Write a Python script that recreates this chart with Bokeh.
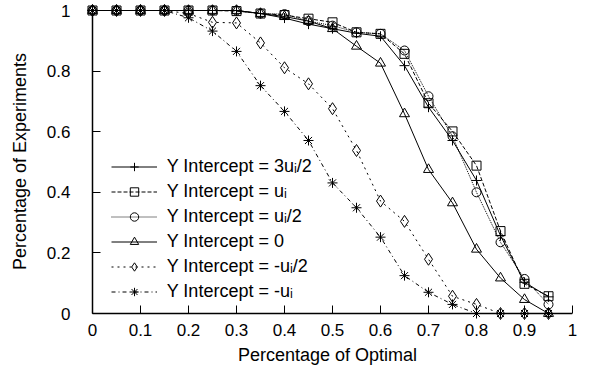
from bokeh.plotting import figure
from bokeh.models import Range1d, FixedTicker, CustomJSTickFormatter, Legend, LegendItem
from bokeh.embed import file_html
from bokeh.resources import INLINE

# ---- data ----
x_vals = [0, 0.05, 0.1, 0.15, 0.2, 0.25, 0.3, 0.35, 0.4, 0.45,
          0.5, 0.55, 0.6, 0.65, 0.7, 0.75, 0.8, 0.85, 0.9, 0.95]

y_3u2 = [1, 1, 1, 1, 1, 1, 1, 0.99, 0.975, 0.955, 0.94, 0.925, 0.915, 0.818, 0.681, 0.571, 0.439, 0.257, 0.103, 0.055]
y_u = [1, 1, 1, 1, 1, 1, 0.998, 0.99, 0.985, 0.973, 0.961, 0.928, 0.923, 0.857, 0.694, 0.601, 0.488, 0.272, 0.098, 0.057]
y_u2 = [1, 1, 1, 1, 1, 1, 1, 0.99, 0.988, 0.965, 0.95, 0.928, 0.923, 0.868, 0.717, 0.585, 0.400, 0.235, 0.114, 0.03]
y_0 = [1, 1, 1, 1, 1, 1, 1, 0.99, 0.98, 0.965, 0.94, 0.882, 0.826, 0.659, 0.475, 0.365, 0.212, 0.117, 0.046, 0]
y_mu2 = [1, 1, 1, 1, 0.99, 0.961, 0.959, 0.893, 0.811, 0.758, 0.676, 0.538, 0.371, 0.304, 0.179, 0.057, 0.03, 0, 0, 0]
y_mu = [1, 1, 1, 1, 0.976, 0.932, 0.865, 0.752, 0.667, 0.571, 0.431, 0.349, 0.252, 0.125, 0.070, 0.030, 0, 0, 0, 0]

labels = ["Y Intercept = 3u\u1d62/2", "Y Intercept = u\u1d62", "Y Intercept = u\u1d62/2",
          "Y Intercept = 0", "Y Intercept = -u\u1d62/2", "Y Intercept = -u\u1d62"]
x_ticks = [0, 0.1, 0.2, 0.3, 0.4, 0.5, 0.6, 0.7, 0.8, 0.9, 1]
y_ticks = [0, 0.2, 0.4, 0.6, 0.8, 1]

series = [y_3u2, y_u, y_u2, y_0, y_mu2, y_mu]
dashes = ["solid", "4 2", "1 1", "solid", "2 4", "4 3 1 3"]
markers = ["cross", "square", "circle", "triangle", "diamond", "asterisk"]
sizes = [10, 9, 9, 10, 12, 10]

FONT = "Liberation Sans"

# frame: x=0 at px 92, x=1 at px 572 ; y=1 at px 10, y=0 at px 313
PAD_L, PAD_T, PAD_B = 10, 10, 9
SX, SY = 480.0, 303.0

p = figure(frame_width=490, frame_height=322, output_backend="svg", toolbar_location=None,
           x_range=Range1d(-PAD_L / SX, 1.0),
           y_range=Range1d(-PAD_B / SY, 1 + PAD_T / SY),
           min_border_left=82, min_border_right=16, min_border_top=0, min_border_bottom=44)
p.outline_line_color = None
p.grid.visible = False
p.background_fill_color = "white"

# axis lines spanning the tick range only
p.segment(x0=[x_ticks[0], x_ticks[0]], y0=[y_ticks[0], y_ticks[0]],
          x1=[x_ticks[-1], x_ticks[0]], y1=[y_ticks[0], y_ticks[-1]],
          line_color="black", line_width=1.5)

items = []
for ys, dash, mk, sz, lab in zip(series, dashes, markers, sizes, labels):
    ln = p.line(x_vals, ys, line_color="black", line_width=1, line_dash=dash)
    sc = p.scatter(x_vals, ys, marker=mk, size=sz, line_color="black",
                   fill_color=None, line_width=1)
    items.append(LegendItem(label=lab, renderers=[ln, sc]))

fmt = "return String(Math.round(tick*10)/10)"
for ax, ticks, lab, pad in [(p.xaxis[0], x_ticks, "Percentage of Optimal", PAD_B),
                            (p.yaxis[0], y_ticks, "Percentage of Experiments", PAD_L)]:
    ax.ticker = FixedTicker(ticks=ticks, minor_ticks=[])
    ax.formatter = CustomJSTickFormatter(code=fmt)
    ax.axis_label = lab
    ax.axis_label_text_font = FONT
    ax.axis_label_text_font_size = "18px"
    ax.axis_label_text_font_style = "normal"
    ax.axis_label_text_color = "black"
    ax.major_label_text_font = FONT
    ax.major_label_text_font_size = "17px"
    ax.major_label_text_color = "black"
    ax.major_tick_out = -pad
    ax.major_tick_in = pad + 8
    ax.minor_tick_in = 0
    ax.minor_tick_out = 0
    ax.axis_line_color = None
    ax.major_tick_line_color = "black"
    ax.major_tick_line_width = 1

p.xaxis.major_label_standoff = 1
p.xaxis.axis_label_standoff = 6
p.yaxis.major_label_standoff = 12
p.yaxis.axis_label_standoff = 14

legend = Legend(items=items, location=(28.7, 19.8), padding=0, margin=0,
                border_line_color=None, background_fill_alpha=0,
                glyph_width=46, glyph_height=21, label_height=21, spacing=4,
                label_standoff=10, label_text_font=FONT, label_text_font_size="18px",
                label_text_color="black")
p.add_layout(legend)

open("out.html", "w").write(file_html(p, INLINE))
